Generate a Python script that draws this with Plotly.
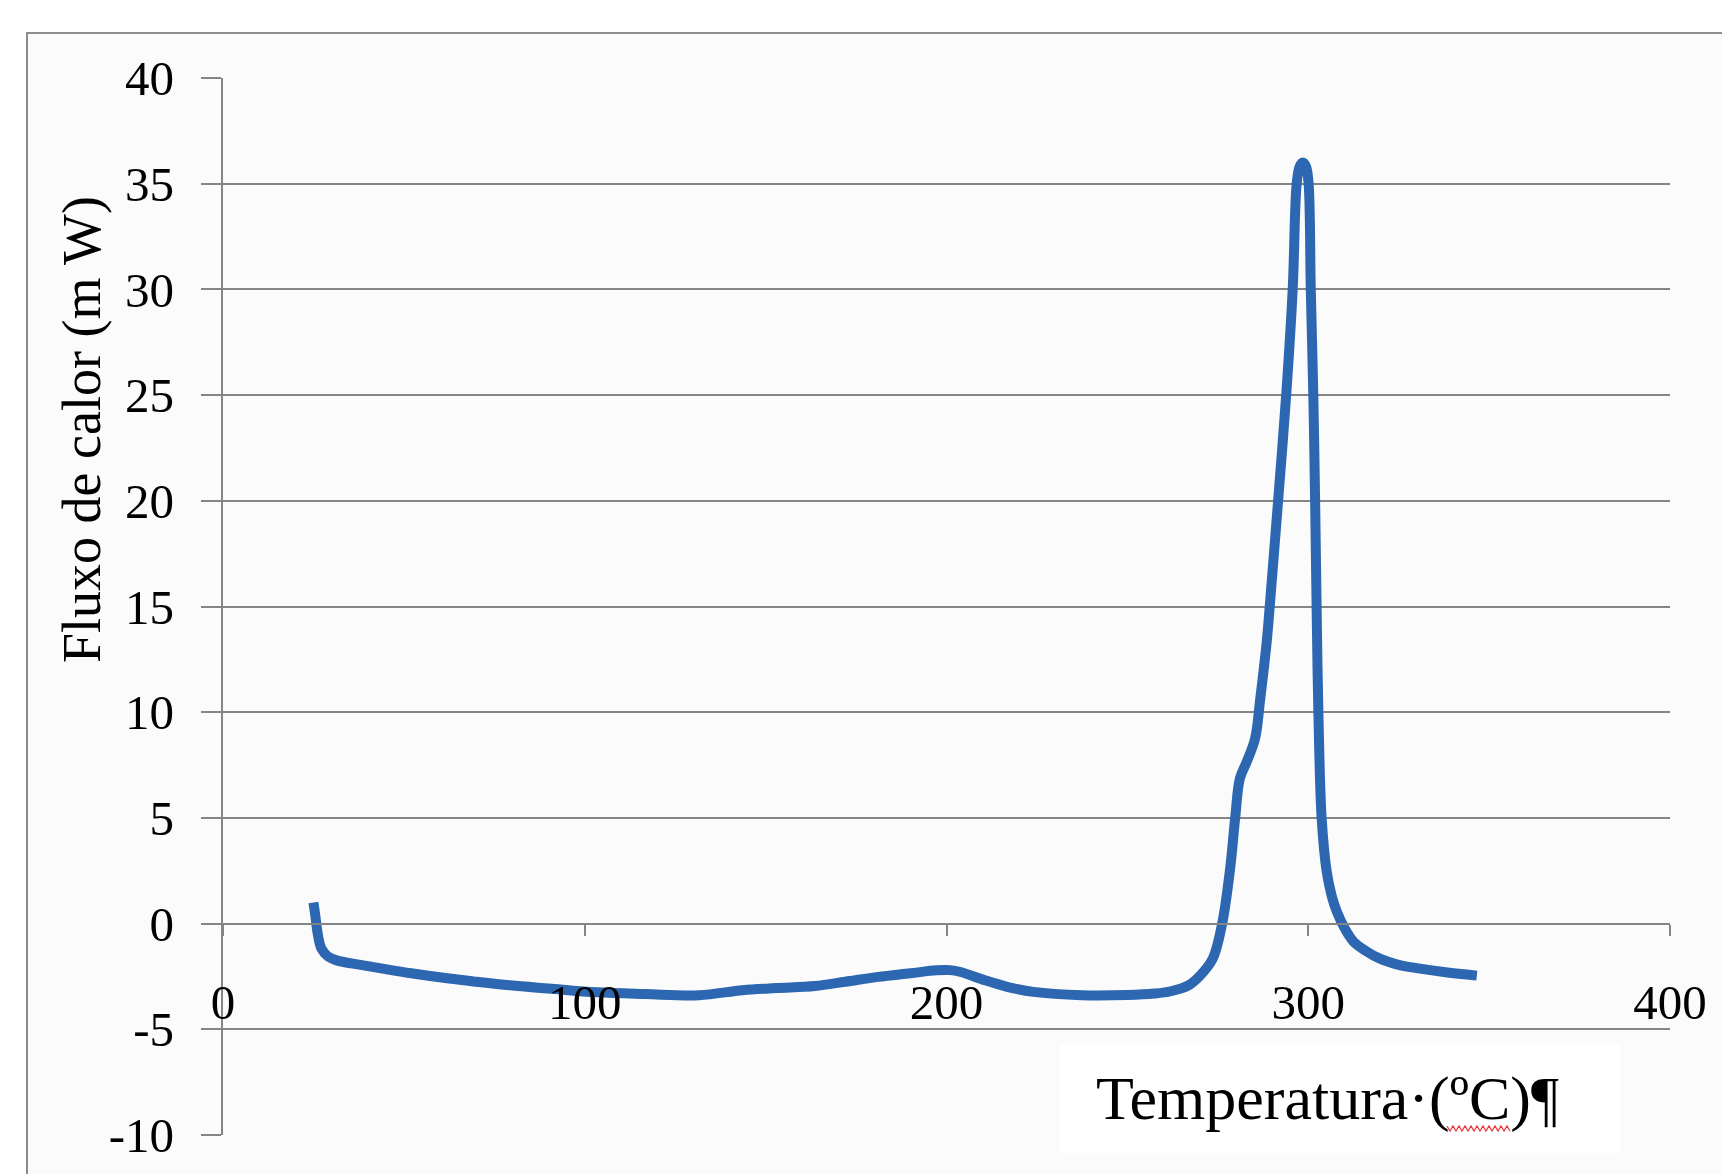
import plotly.graph_objects as go

# DSC curve: temperature (°C) vs heat flow (mW)
temperatura = [25.0, 25.5, 26.2, 27.2, 29.0, 31.4, 38.0, 44.1, 52.0, 62.5, 70.0, 79.3, 90.0,
               103.4, 116.8, 131.5, 143.6, 153.0, 163.6, 172.0, 181.1, 190.0, 197.2,
               201.0, 203.9, 210.6, 217.0, 224.0, 237.4, 250.0, 257.5, 262.0, 266.9,
               270.1, 273.6, 276.2, 278.4, 279.8, 281.1, 283.0, 285.3, 286.7, 288.5,
               289.4, 291.3, 293.9, 295.7, 296.8, 297.6, 298.5, 299.4, 300.1, 300.7,
               301.4, 301.9, 302.3, 302.8, 303.7, 305.1, 306.5, 307.9, 310.0, 312.5,
               316.0, 319.8, 325.0, 330.9, 338.0, 346.6]
fluxo = [1.0, 0.4, -0.5, -1.18, -1.55, -1.74, -1.95, -2.13, -2.35, -2.6, -2.75, -2.92, -3.07,
         -3.25, -3.33, -3.39, -3.15, -3.05, -2.95, -2.75, -2.52, -2.35, -2.21,
         -2.2, -2.29, -2.68, -3.0, -3.23, -3.39, -3.38, -3.31, -3.2, -2.92,
         -2.46, -1.66, 0.0, 2.6, 5.0, 6.86, 7.66, 8.75, 10.6, 13.3,
         15.1, 19.2, 25.0, 30.0, 35.0, 35.8, 36.0, 35.8, 35.0, 30.0,
         25.0, 20.0, 15.1, 10.0, 5.0, 2.46, 1.3, 0.57, -0.2, -0.85,
         -1.3, -1.66, -1.95, -2.13, -2.3, -2.46]

y_ticks = [-10, -5, 0, 5, 10, 15, 20, 25, 30, 35, 40]
x_ticks = [0, 100, 200, 300, 400]

titulo_x = "Temperatura·(ºC)¶"
titulo_y = "Fluxo de calor (m W)"

GRID = "#858585"
FONT = "Liberation Serif"

# plot-area pixel geometry, used to place decorations in paper units
L, R, T, B = 223, 52, 78, 39
W, H = 1722, 1174
PW, PH = W - L - R, H - T - B


def px_to_paper(px, py):
    return (px - L) / PW, (H - B - py) / PH


fig = go.Figure()
fig.add_trace(go.Scatter(
    x=temperatura, y=fluxo, mode="lines",
    line=dict(color="#2e67b1", width=10, shape="spline", smoothing=1.0),
    showlegend=False, hoverinfo="skip",
))

shapes = []

# chart frame
fx0, fy1 = px_to_paper(27, 33)
shapes.append(dict(type="rect", xref="paper", yref="paper",
                   x0=fx0, x1=1.2, y0=-0.3, y1=fy1,
                   line=dict(color="#8c8c8c", width=2), fillcolor="#fbfbfb",
                   layer="below"))

# white box behind the x-axis title
bx0, by1 = px_to_paper(1060, 1043)
bx1, by0 = px_to_paper(1620, 1153)
shapes.append(dict(type="rect", xref="paper", yref="paper",
                   x0=bx0, x1=bx1, y0=by0, y1=by1,
                   line=dict(width=0), fillcolor="white", layer="above"))

# wavy spell-check underline beneath "ºC"
pts = []
for i in range(22):
    px = 1447 + i * 3
    py = 1126 if i % 2 == 0 else 1131
    pts.append(px_to_paper(px, py))
path = "M " + " L ".join(f"{a:.5f},{b:.5f}" for a, b in pts)
shapes.append(dict(type="path", xref="paper", yref="paper", path=path,
                   line=dict(color="#e8343a", width=1.2), layer="above"))

fig.update_layout(
    width=W, height=H,
    margin=dict(l=L, r=R, t=T, b=B),
    paper_bgcolor="white",
    plot_bgcolor="rgba(0,0,0,0)",
    font=dict(family=FONT, color="black"),
    xaxis=dict(
        range=[0, 400], tickvals=x_ticks, ticktext=[str(v) for v in x_ticks],
        anchor="free", position=0.2,
        showline=True, linecolor=GRID, linewidth=2.4,
        ticks="outside", ticklen=11, tickwidth=2.4, tickcolor=GRID,
        showgrid=False, zeroline=False,
        tickfont=dict(family=FONT, size=49, color="black"),
        ticklabelstandoff=24,
    ),
    yaxis=dict(
        range=[-10, 40], tickvals=y_ticks, ticktext=[str(v) for v in y_ticks],
        showgrid=True, gridcolor=GRID, gridwidth=2.4,
        showline=True, linecolor=GRID, linewidth=2.4,
        ticks="outside", ticklen=20, tickwidth=2.4, tickcolor=GRID,
        zeroline=False,
        tickfont=dict(family=FONT, size=49, color="black"),
        ticklabelstandoff=17,
    ),
    shapes=shapes,
    annotations=[
        dict(text=titulo_y, textangle=-90, xref="paper", yref="paper",
             x=px_to_paper(82, 0)[0], y=px_to_paper(0, 430)[1],
             xanchor="center", yanchor="middle",
             showarrow=False, font=dict(family=FONT, size=54, color="black")),
        dict(text=titulo_x, xref="paper", yref="paper",
             x=px_to_paper(1327, 0)[0], y=px_to_paper(0, 1098)[1],
             xanchor="center", yanchor="middle",
             showarrow=False,
             font=dict(family=FONT, size=62, color="black")),
    ],
)

fig.write_html("out.html")
